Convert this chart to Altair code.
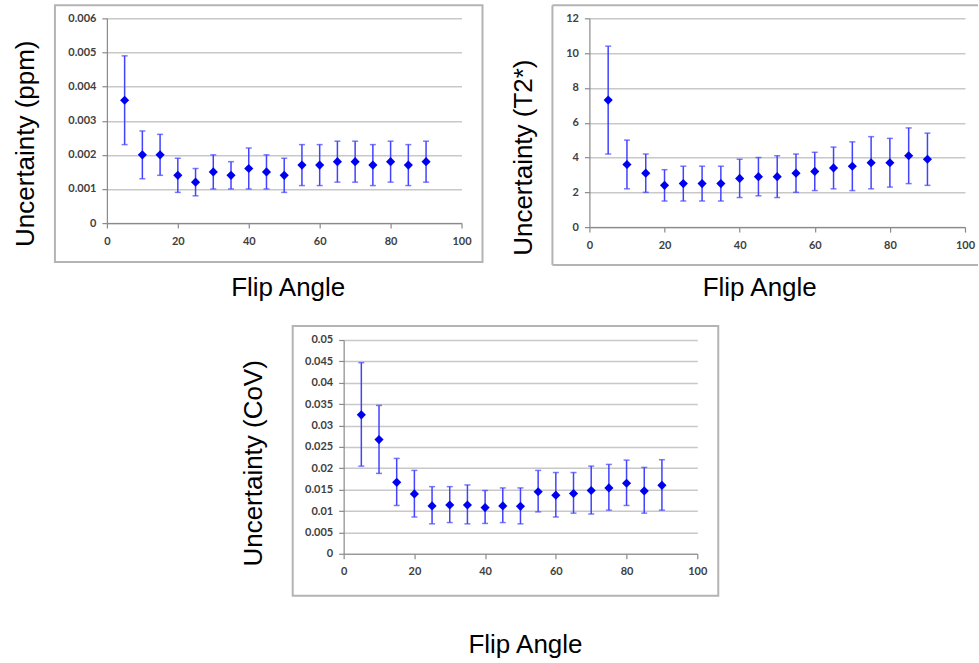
import altair as alt
import pandas as pd

angles = [5, 10, 15, 20, 25, 30, 35, 40, 45, 50, 55, 60, 65, 70, 75, 80, 85, 90]

ppm_mean = [0.0036, 0.0020, 0.0020, 0.0014, 0.0012, 0.0015, 0.0014, 0.0016, 0.0015,
            0.0014, 0.0017, 0.0017, 0.0018, 0.0018, 0.0017, 0.0018, 0.0017, 0.0018]
ppm_low = [0.0023, 0.0013, 0.0014, 0.0009, 0.0008, 0.0010, 0.0010, 0.0010, 0.0010,
           0.0009, 0.0011, 0.0011, 0.0012, 0.0012, 0.0011, 0.0012, 0.0011, 0.0012]
ppm_high = [0.0049, 0.0027, 0.0026, 0.0019, 0.0016, 0.0020, 0.0018, 0.0022, 0.0020,
            0.0019, 0.0023, 0.0023, 0.0024, 0.0024, 0.0023, 0.0024, 0.0023, 0.0024]

t2_mean = [7.3, 3.6, 3.1, 2.4, 2.5, 2.5, 2.5, 2.8, 2.9, 2.9, 3.1, 3.2, 3.4, 3.5, 3.7, 3.7, 4.1, 3.9]
t2_low = [4.2, 2.2, 2.0, 1.5, 1.5, 1.5, 1.5, 1.7, 1.8, 1.7, 2.0, 2.1, 2.2, 2.1, 2.2, 2.3, 2.5, 2.4]
t2_high = [10.4, 5.0, 4.2, 3.3, 3.5, 3.5, 3.5, 3.9, 4.0, 4.1, 4.2, 4.3, 4.6, 4.9, 5.2, 5.1, 5.7, 5.4]

cov_mean = [0.0325, 0.0267, 0.0167, 0.0140, 0.0112, 0.0114, 0.0114, 0.0108, 0.0112,
            0.0111, 0.0145, 0.0137, 0.0141, 0.0148, 0.0154, 0.0165, 0.0147, 0.0160]
cov_low = [0.0205, 0.0188, 0.0113, 0.0086, 0.0070, 0.0073, 0.0070, 0.0071, 0.0073,
           0.0070, 0.0098, 0.0086, 0.0095, 0.0093, 0.0102, 0.0113, 0.0095, 0.0102]
cov_high = [0.0447, 0.0347, 0.0223, 0.0195, 0.0157, 0.0157, 0.0161, 0.0148, 0.0154,
            0.0154, 0.0195, 0.0190, 0.0190, 0.0205, 0.0209, 0.0219, 0.0202, 0.0220]

x_ticks = [0, 20, 40, 60, 80, 100]
ppm_ticks = [0, 0.001, 0.002, 0.003, 0.004, 0.005, 0.006]
t2_ticks = [0, 2, 4, 6, 8, 10, 12]
cov_ticks = [0, 0.005, 0.01, 0.015, 0.02, 0.025, 0.03, 0.035, 0.04, 0.045, 0.05]

x_title = "Flip Angle"
ppm_title = "Uncertainty (ppm)"
t2_title = "Uncertainty (T2*)"
cov_title = "Uncertainty (CoV)"

deco = pd.DataFrame({"k": [0]})

MARK_BLUE = "#0000f0"
BAR_BLUE = "#4242ff"
FRAME = "#b4b4b4"


def panel(mean, low, high, yticks, ytitle, w, h, ytpos, xtpos, frame, bg=False, frame_open=False):
    df = pd.DataFrame({"angle": angles, "mean": mean, "low": low, "high": high})
    xaxis = alt.Axis(values=x_ticks, format="d", grid=False, title=x_title,
                     titleX=xtpos[0], titleY=xtpos[1], titleAlign="center",
                     titleBaseline="alphabetic", titleFontSize=26, labelFlush=False,
                     labelPadding=7)
    yaxis = alt.Axis(values=yticks, format="~g", grid=True, title=ytitle,
                     titleX=ytpos[0], titleY=ytpos[1], titleAngle=270,
                     titleAlign="center", titleBaseline="middle", titleFontSize=26,
                     labelPadding=6)
    xs = alt.Scale(domain=[0, 100], nice=False, zero=False)
    ys = alt.Scale(domain=[yticks[0], yticks[-1]], nice=False)

    layers = []
    if bg:
        # invisible page-sized box: fixes the page origin
        layers.append(alt.Chart(deco).mark_rect(opacity=0).encode(
            x=alt.value(-107), x2=alt.value(872), y=alt.value(-18), y2=alt.value(645)))
    fx1, fx2, fy1, fy2 = frame
    if frame_open:
        layers.append(alt.Chart(deco).mark_rule(color=FRAME, strokeWidth=2).encode(
            x=alt.value(fx1), x2=alt.value(fx2), y=alt.value(fy1)))
        layers.append(alt.Chart(deco).mark_rule(color=FRAME, strokeWidth=2).encode(
            x=alt.value(fx1), x2=alt.value(fx2), y=alt.value(fy2)))
        layers.append(alt.Chart(deco).mark_rule(color=FRAME, strokeWidth=2).encode(
            x=alt.value(fx1), y=alt.value(fy1), y2=alt.value(fy2)))
    else:
        layers.append(alt.Chart(deco).mark_rect(fillOpacity=0, stroke=FRAME, strokeWidth=2).encode(
            x=alt.value(fx1), x2=alt.value(fx2), y=alt.value(fy1), y2=alt.value(fy2)))

    base = alt.Chart(df)
    rules = base.mark_rule(color=BAR_BLUE, strokeWidth=1.5).encode(
        x=alt.X("angle:Q", scale=xs, axis=xaxis),
        y=alt.Y("low:Q", scale=ys, axis=yaxis),
        y2="high:Q")
    cap_lo = base.mark_tick(color=BAR_BLUE, orient="horizontal", size=6, thickness=1.5).encode(
        x=alt.X("angle:Q", scale=xs, axis=xaxis),
        y=alt.Y("low:Q", scale=ys, axis=yaxis))
    cap_hi = base.mark_tick(color=BAR_BLUE, orient="horizontal", size=6, thickness=1.5).encode(
        x=alt.X("angle:Q", scale=xs, axis=xaxis),
        y=alt.Y("high:Q", scale=ys, axis=yaxis))
    pts = base.mark_point(shape="diamond", filled=True, size=84, color=MARK_BLUE, opacity=1).encode(
        x=alt.X("angle:Q", scale=xs, axis=xaxis),
        y=alt.Y("mean:Q", scale=ys, axis=yaxis))
    layers += [rules, cap_lo, cap_hi, pts]
    return alt.layer(*layers).properties(width=w, height=h)


p1 = panel(ppm_mean, ppm_low, ppm_high, ppm_ticks, ppm_title, 355, 205,
           (-81, 125), (181, 72), (-52, 376, -13, 244), bg=True)
p2 = panel(t2_mean, t2_low, t2_high, t2_ticks, t2_title, 376, 209,
           (-65.5, 139), (170, 68), (-37, 389, -13, 247), frame_open=True)
p3 = panel(cov_mean, cov_low, cov_high, cov_ticks, cov_title, 354, 214,
           (-90.5, 123), (181.5, 99), (-51, 375, -14, 256))


def spacer(w, h):
    return alt.Chart(deco).mark_point(opacity=0).encode(
        x=alt.value(0), y=alt.value(0)).properties(width=w, height=h)


# grid: row 1 = p1, spacer, p2 ; row 2 = spacer, p3
chart = alt.concat(
    p1, spacer(364, 10), p2,
    spacer(10, 10), p3,
    columns=3,
    spacing=alt.RowColnumber(row=113, column=-118),
    align="none",
    bounds="flush",
).properties(
    padding=0,
    background="white",
).configure_view(
    stroke=None
).configure_axis(
    labelFont="Lato",
    labelFontSize=11,
    labelFontWeight="bold",
    labelColor="#404040",
    titleFont="Liberation Sans",
    titleFontWeight="normal",
    titleColor="#000000",
    domainColor="#8a8a8a",
    domainWidth=1.2,
    tickColor="#8a8a8a",
    tickWidth=1.2,
    tickSize=5,
    gridColor="#c8c8c8",
    gridWidth=1.5,
)

chart.save("out.html", embed_options={"renderer": "svg", "actions": False})
